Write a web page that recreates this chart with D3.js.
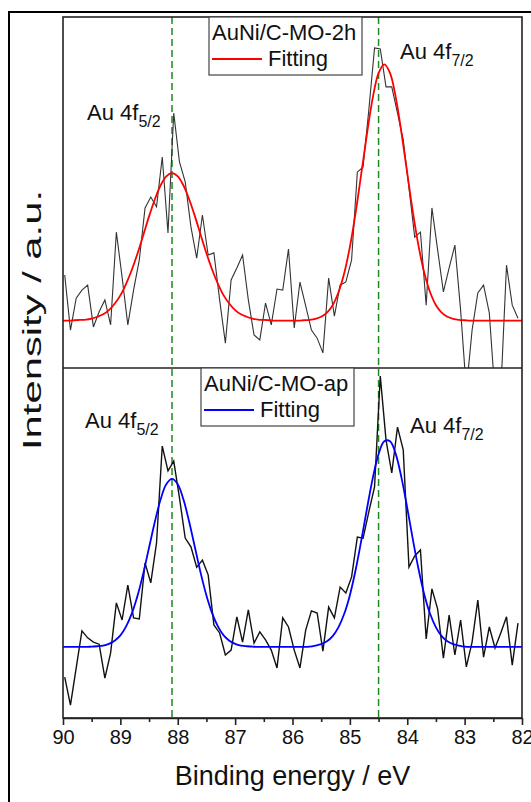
<!DOCTYPE html>
<html>
<head>
<meta charset="utf-8">
<script src="https://cdn.jsdelivr.net/npm/d3@7"></script>
<style>
  body { margin: 0; background: #fff; }
  text { font-family: "Liberation Sans", Arial, sans-serif; fill: #111; }
</style>
</head>
<body>
<div id="chart"></div>
<script>
// x ticks (binding energy, eV)
var xTicks = [90, 89, 88, 87, 86, 85, 84, 83, 82];
var xMinor = [89.5, 88.5, 87.5, 86.5, 85.5, 84.5, 83.5, 82.5];
var peakLines = [88.1, 84.5];

// measured spectra, 0.1 eV step starting at 89.97 eV (a.u.)
var rawStart = 89.97;
var raw2h = [26.5, 10.8, 19.9, 22.2, 23.6, 11.7, 16.0, 19.4, 12.3, 38.7,
             25.9, 12.3, 22.2, 30.8, 45.6, 48.7, 45.9, 60.1, 38.5, 72.6,
             58.7, 53.0, 40.2, 31.3, 43.6, 32.2, 32.8, 19.4, 7.1, 25.1,
             28.5, 32.2, 19.4, 9.4, 8.0, 18.5, 12.3, 22.5, 22.2, 33.9,
             11.4, 24.5, 17.7, 10.8, 8.5, 4.3, 25.6, 14.8, 23.6, 24.5,
             30.8, 55.8, 57.3, 73.5, 91.2, 90.9, 80.1, 80.1, 72.6, 65.0,
             51.3, 37.3, 38.7, 17.9, 45.6, 33.6, 21.7, 28.5, 35.0, 16.5,
             -6.3, 10.8, 21.4, 23.6, 15.7, -7.7, -6.8, 29.3, 17.9, 14.2];
var rawAp = [11.7, 3.7, 14.3, 24.9, 22.9, 21.7, 21.1, 11.4, 18.6, 32.9,
             28.0, 38.0, 28.6, 28.3, 44.3, 38.6, 50.0, 77.7, 70.6, 73.4,
             62.9, 51.4, 48.9, 43.1, 45.1, 40.9, 26.6, 24.3, 18.0, 19.4,
             28.9, 21.7, 30.9, 21.4, 24.6, 22.3, 19.4, 14.3, 28.6, 26.0,
             19.4, 14.3, 25.1, 30.6, 30.0, 19.1, 31.7, 28.6, 37.4, 35.7,
             40.3, 51.7, 51.4, 58.9, 66.0, 97.7, 79.4, 70.0, 83.1, 76.6,
             43.1, 46.3, 48.0, 22.6, 36.9, 31.1, 17.1, 29.4, 18.0, 28.0,
             14.6, 21.7, 33.7, 17.4, 26.0, 20.0, 24.3, 28.9, 15.1, 27.1];

// fitted envelopes, 0.1 eV step from 90 to 82 eV
var fitStart = 90;
var fit2h = [13.5, 13.5, 13.6, 13.7, 13.8, 14.1, 14.6, 15.3, 16.5, 18.3,
             20.7, 24.0, 28.0, 32.7, 37.9, 43.2, 48.0, 52.0, 54.6, 55.5,
             54.6, 52.0, 48.0, 43.2, 37.9, 32.7, 28.0, 24.0, 20.7, 18.3,
             16.5, 15.3, 14.6, 14.1, 13.8, 13.7, 13.6, 13.5, 13.5, 13.5,
             13.5, 13.5, 13.6, 13.7, 14.0, 14.6, 15.8, 17.9, 21.5, 26.9,
             34.5, 44.2, 55.5, 66.9, 77.1, 84.0, 86.5, 84.0, 77.1, 66.9,
             55.5, 44.2, 34.5, 26.9, 21.5, 17.9, 15.8, 14.6, 14.0, 13.7,
             13.6, 13.5, 13.5, 13.5, 13.5, 13.5, 13.5, 13.5, 13.5, 13.5, 13.5];
var fitAp = [20.3, 20.3, 20.3, 20.3, 20.3, 20.4, 20.5, 20.7, 21.2, 22.1,
             23.6, 26.2, 29.9, 35.0, 41.4, 48.7, 56.0, 62.4, 66.8, 68.3,
             66.8, 62.4, 56.0, 48.7, 41.4, 35.0, 29.9, 26.2, 23.6, 22.1,
             21.2, 20.7, 20.5, 20.4, 20.3, 20.3, 20.3, 20.3, 20.3, 20.3,
             20.3, 20.3, 20.3, 20.4, 20.7, 21.1, 21.9, 23.4, 25.9, 29.7,
             35.1, 42.3, 50.8, 60.0, 68.6, 75.4, 79.1, 79.1, 75.4, 68.6,
             60.0, 50.8, 42.3, 35.1, 29.7, 25.9, 23.4, 21.9, 21.1, 20.7,
             20.4, 20.3, 20.3, 20.3, 20.3, 20.3, 20.3, 20.3, 20.3, 20.3, 20.3];

var W = 531, H = 802;
var pLeft = 63, pRight = 522, pTop = 17, pMid = 368, pBottom = 718;

var svg = d3.select("#chart")
  .append("svg")
  .attr("width", W)
  .attr("height", H);

var x = d3.scaleLinear().domain([90, 82]).range([pLeft, pRight]);
var yTop = d3.scaleLinear().domain([0, 100]).range([pMid, pTop]);
var yBot = d3.scaleLinear().domain([0, 100]).range([pBottom, pMid]);

function toPts(vals, start) {
  return vals.map(function(v, i) { return {e: start - 0.1 * i, v: v}; });
}

// outer frame
svg.append("path")
  .attr("d", "M9," + H + "V12H" + W)
  .attr("fill", "none")
  .attr("stroke", "#000")
  .attr("stroke-width", 2);

var defs = svg.append("defs");
defs.append("clipPath").attr("id", "clipTop")
  .append("rect").attr("x", pLeft).attr("y", pTop).attr("width", pRight - pLeft).attr("height", pMid - pTop);
defs.append("clipPath").attr("id", "clipBot")
  .append("rect").attr("x", pLeft).attr("y", pMid).attr("width", pRight - pLeft).attr("height", pBottom - pMid);

// dashed peak markers
svg.selectAll(".peak")
  .data(peakLines)
  .enter()
  .append("line")
  .attr("x1", function(d) { return x(d); })
  .attr("x2", function(d) { return x(d); })
  .attr("y1", pTop)
  .attr("y2", pBottom)
  .attr("stroke", "#1f8a1f")
  .attr("stroke-width", 1.5)
  .attr("stroke-dasharray", "7,4");

function panel(y, clip, raw, fit, color, rawStroke, rawWidth) {
  var g = svg.append("g").attr("clip-path", "url(#" + clip + ")");
  var line = d3.line()
    .x(function(d) { return x(d.e); })
    .y(function(d) { return y(d.v); });
  g.append("path")
    .datum(toPts(raw, rawStart))
    .attr("fill", "none")
    .attr("stroke", rawStroke)
    .attr("stroke-width", rawWidth)
    .attr("d", line);
  g.append("path")
    .datum(toPts(fit, fitStart))
    .attr("fill", "none")
    .attr("stroke", color)
    .attr("stroke-width", 1.8)
    .attr("d", line.curve(d3.curveCatmullRom));
}
panel(yTop, "clipTop", raw2h, fit2h, "#ff0000", "#333", 1.1);
panel(yBot, "clipBot", rawAp, fitAp, "#0000ff", "#111", 1.4);

// frames
svg.append("rect")
  .attr("x", pLeft).attr("y", pTop)
  .attr("width", pRight - pLeft).attr("height", pBottom - pTop)
  .attr("fill", "none").attr("stroke", "#222").attr("stroke-width", 1.6);
svg.append("line")
  .attr("x1", pLeft).attr("x2", pRight).attr("y1", pMid).attr("y2", pMid)
  .attr("stroke", "#222").attr("stroke-width", 1.6);

// x axis
var xAxis = svg.append("g")
  .attr("transform", "translate(0," + pBottom + ")")
  .call(d3.axisBottom(x).tickValues(xTicks).tickSize(7).tickSizeOuter(0).tickPadding(5));
svg.append("g")
  .attr("transform", "translate(0," + pBottom + ")")
  .call(d3.axisBottom(x).tickValues(xMinor).tickSize(4).tickSizeOuter(0).tickFormat(""))
  .select(".domain").remove();
svg.selectAll(".tick line").attr("stroke", "#222").attr("stroke-width", 1.6);
xAxis.select(".domain").attr("stroke", "#222").attr("stroke-width", 1.6);
xAxis.selectAll(".tick text")
  .style("font-family", "'Liberation Sans', Arial, sans-serif")
  .style("font-size", "20px")
  .attr("fill", "#111");

svg.append("text")
  .attr("x", (pLeft + pRight) / 2)
  .attr("y", 785)
  .attr("text-anchor", "middle")
  .style("font-size", "27px")
  .text("Binding energy / eV");

// the y title is drawn stretched along its length in the source figure
svg.append("text")
  .attr("transform", "translate(41,320) rotate(-90)")
  .attr("text-anchor", "middle")
  .attr("textLength", 260)
  .attr("lengthAdjust", "spacingAndGlyphs")
  .style("font-size", "25px")
  .text("Intensity / a.u.");

// legends
function legend(bx, by, label, color) {
  svg.append("rect")
    .attr("x", bx).attr("y", by)
    .attr("width", 153).attr("height", 58)
    .attr("fill", "#fff").attr("stroke", "#444").attr("stroke-width", 1.2);
  svg.append("text")
    .attr("x", bx + 3).attr("y", by + 23)
    .style("font-size", "22px")
    .text(label);
  svg.append("line")
    .attr("x1", bx + 3).attr("x2", bx + 53)
    .attr("y1", by + 42).attr("y2", by + 42)
    .attr("stroke", color).attr("stroke-width", 1.8);
  svg.append("text")
    .attr("x", bx + 59).attr("y", by + 49)
    .style("font-size", "22px")
    .text("Fitting");
}
legend(209, pTop, "AuNi/C-MO-2h", "#ff0000");
legend(201, pMid, "AuNi/C-MO-ap", "#0000ff");

// peak labels
var labels = [
  {x: 87, y: 120, sub: "5/2"},
  {x: 400, y: 59, sub: "7/2"},
  {x: 85, y: 428, sub: "5/2"},
  {x: 410, y: 433, sub: "7/2"}
];
labels.forEach(function(l) {
  var t = svg.append("text")
    .attr("x", l.x).attr("y", l.y)
    .style("font-size", "22px")
    .text("Au 4f");
  t.append("tspan")
    .attr("dy", 7)
    .style("font-size", "16px")
    .text(l.sub);
});
</script>
</body>
</html>
